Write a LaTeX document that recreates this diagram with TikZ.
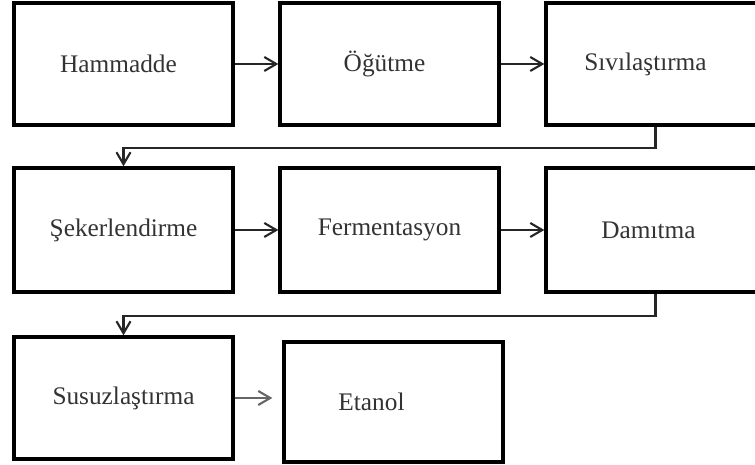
\documentclass[tikz,border=0pt]{standalone}
\usepackage{fontspec}
\setmainfont{Liberation Serif}
\usetikzlibrary{arrows.meta}

\tikzset{
  box/.style={draw=black,line width=1.9pt,minimum width=4.38cm,minimum height=2.44cm,inner sep=0pt,text=black!80,font=\fontsize{14.4}{17}\selectfont},
  arr/.style={draw=black!85,line width=1.2pt,-{Straight Barb[length=0.24cm,width=0.28cm,line width=1.2pt]}}
}

\begin{document}
\begin{tikzpicture}[x=0.02cm,y=-0.02cm]

\useasboundingbox (0,0) rectangle (755,465);

\node[box] (ham) at (123.5,64) {Hammadde\kern0.2cm};
\node[box] (ogu) at (389.5,64) {Öğütme\kern0.2cm};
\node[box] (siv) at (655.5,64) {Sıvılaştırma\kern0.4cm};

\node[box,minimum height=2.48cm] (sek) at (123.5,230) {Şekerlendirme};
\node[box,minimum height=2.48cm] (fer) at (389.5,230) {Fermentasyon};
\node[box,minimum height=2.48cm] (dam) at (655.5,230) {Damıtma\kern0.28cm};

\node[box] (sus) at (123.5,398) {Susuzlaştırma};
\node[box,minimum height=2.4cm] (eta) at (393.5,402) {Etanol\kern0.88cm};

\coordinate (k1) at (123.5,148);
\coordinate (k2) at (123.5,316);

\draw[arr] (ham) -- (ogu);
\draw[arr] (ogu) -- (siv);
\draw[arr] (siv.south) |- (k1) -- (sek.north);

\draw[arr] (sek) -- (fer);
\draw[arr] (fer) -- (dam);
\draw[arr] (dam.south) |- (k2) -- (sus.north);

\draw[arr,draw=black!60,shorten >=0.2cm] (sus.east) -- (sus.east -| eta.west);

\end{tikzpicture}
\end{document}
